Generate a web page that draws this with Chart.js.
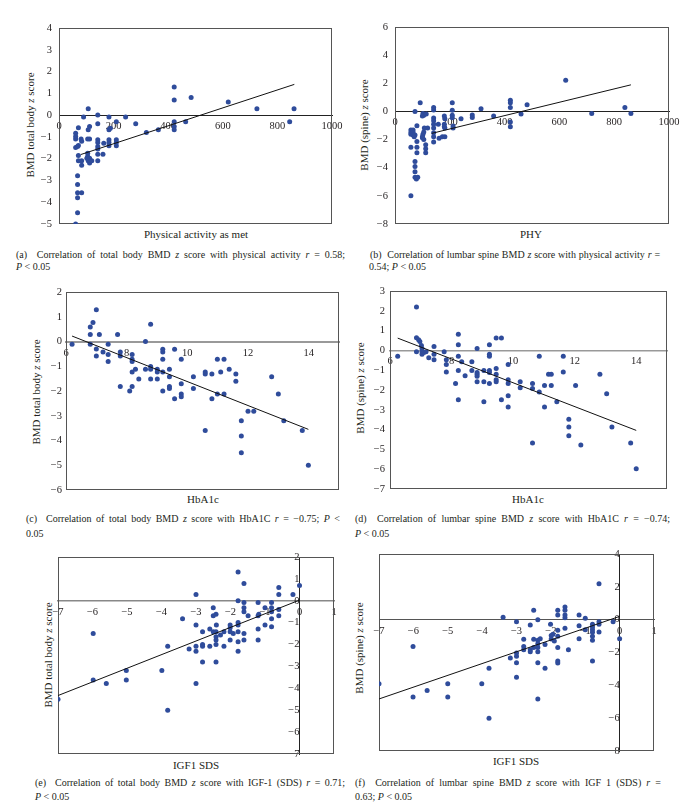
<!DOCTYPE html>
<html>
<head>
<meta charset="utf-8">
<script src="https://cdn.jsdelivr.net/npm/chart.js@4.4.1/dist/chart.umd.min.js"></script>
<style>
  body { margin: 0; background: #fff; width: 696px; height: 804px; position: relative; overflow: hidden;
         font-family: 'Liberation Serif', 'DejaVu Serif', serif; color: #231f20; }
  canvas { position: absolute; }
  .t { position: absolute; font-size: 11px; white-space: nowrap; transform: translate(-50%, -50%); }
  .r { transform: translate(-50%, -50%) rotate(-90deg); }
  .cap { position: absolute; font-size: 10px; line-height: 12px; white-space: nowrap; }
  .j { text-align: justify; text-align-last: justify; white-space: normal; }
</style>
</head>
<body>

<!-- axis titles -->
<div class="t" style="left:196px;top:234px">Physical activity as met</div>
<div class="t r" style="left:30px;top:125px">BMD total body <i>z</i> score</div>
<div class="t" style="left:531px;top:234px">PHY</div>
<div class="t r" style="left:364px;top:125px">BMD (spine) <i>z</i> score</div>
<div class="t" style="left:203px;top:499px">HbA1c</div>
<div class="t r" style="left:36px;top:392px">BMD total body <i>z</i> score</div>
<div class="t" style="left:528px;top:499px">HbA1c</div>
<div class="t r" style="left:360px;top:388px">BMD (spine) <i>z</i> score</div>
<div class="t" style="left:196px;top:765px">IGF1 SDS</div>
<div class="t r" style="left:48px;top:655px">BMD total body <i>z</i> score</div>
<div class="t" style="left:516px;top:761px">IGF1 SDS</div>
<div class="t r" style="left:359px;top:648px">BMD (spine) <i>z</i> score</div>

<!-- captions -->
<div class="cap j" style="left:16px;top:249px;width:329px">(a)&nbsp; Correlation of total body BMD <i>z</i> score with physical activity <i>r</i> = 0.58;</div>
<div class="cap" style="left:16px;top:261px"><i>P</i> &lt; 0.05</div>
<div class="cap j" style="left:370px;top:249px;width:290px">(b)&nbsp; Correlation of lumbar spine BMD <i>z</i> score with physical activity <i>r</i> =</div>
<div class="cap" style="left:369px;top:261px">0.54; <i>P</i> &lt; 0.05</div>
<div class="cap j" style="left:26px;top:513px;width:314px">(c)&nbsp; Correlation of total body BMD <i>z</i> score with HbA1C <i>r</i> = −0.75; <i>P</i> &lt;</div>
<div class="cap" style="left:26px;top:528px">0.05</div>
<div class="cap j" style="left:355px;top:513px;width:315px">(d)&nbsp; Correlation of lumbar spine BMD <i>z</i> score with HbA1C <i>r</i> = −0.74;</div>
<div class="cap" style="left:355px;top:528px"><i>P</i> &lt; 0.05</div>
<div class="cap j" style="left:35px;top:777px;width:310px">(e)&nbsp; Correlation of total body BMD <i>z</i> score with IGF-1 (SDS) <i>r</i> = 0.71;</div>
<div class="cap" style="left:35px;top:791px"><i>P</i> &lt; 0.05</div>
<div class="cap j" style="left:355px;top:777px;width:306px">(f)&nbsp; Correlation of lumbar spine BMD <i>z</i> score with IGF 1 (SDS) <i>r</i> =</div>
<div class="cap" style="left:355px;top:791px">0.63; <i>P</i> &lt; 0.05</div>

<script>
// values: [x, y] pairs
const bodyPhy = [[61,-5.0],[68,-4.48],[68,-3.8],[68,-3.56],[83,-3.56],[68,-3.19],[68,-2.78],[71,-1.86],[71,-2.1],[83,-2.1],
  [83,-2.3],[61,-1.49],[68,-1.44],[71,-1.4],[61,-1.1],[61,-0.98],[61,-0.83],[71,-0.58],[81,-1.1],[83,-1.2],
  [90,-0.09],[107,0.29],[107,-0.67],[112,-0.52],[105,-1.1],[112,-1.1],[105,-1.75],[105,-1.9],[112,-1.98],[107,-2.1],
  [112,-2.2],[120,-2.1],[102,-1.98],[142,0.0],[142,-0.4],[142,-1.13],[142,-1.26],[142,-1.44],[142,-1.56],[142,-1.8],
  [142,-2.1],[164,-1.29],[161,-1.8],[183,-0.09],[183,-0.67],[188,-0.6],[183,-1.13],[183,-1.26],[183,-1.41],[210,-0.31],
  [210,-1.13],[210,-1.26],[210,-1.41],[244,-0.09],[281,-0.4],[320,-0.8],[364,-0.67],[422,1.29],[422,0.69],[422,-0.31],
  [422,-0.52],[422,-0.67],[464,-0.31],[484,0.81],[620,0.6],[725,0.29],[845,-0.31],[861,0.29]];
const bodyPhyTrend = [[80,-1.81],[862,1.41]];

const spinePhy = [[58,-6.0],[58,-2.55],[58,-1.32],[58,-1.5],[58,-1.63],[66,-1.32],[66,-1.5],[66,-1.68],[73,0.0],[73,-3.55],
  [73,-3.92],[73,-4.28],[73,-4.68],[78,-4.8],[83,-4.68],[80,-2.93],[80,-2.55],[80,-2.13],[80,-1.02],[73,-1.68],
  [70,-1.8],[92,0.61],[102,-0.14],[105,-0.28],[100,-0.33],[114,-0.19],[100,-1.8],[102,-1.63],[105,-1.47],[107,-1.18],
  [100,-1.87],[105,-1.99],[112,-2.93],[112,-2.65],[112,-2.36],[119,-1.18],[141,0.28],[141,0.1],[141,-0.47],[141,-0.66],
  [141,-0.92],[141,-1.18],[141,-1.51],[141,-1.8],[141,-2.17],[158,-0.92],[161,-1.9],[180,-0.33],[182,-0.52],[180,-0.92],
  [180,-1.09],[182,-1.18],[173,-1.8],[182,-1.8],[209,0.61],[209,0.09],[209,-0.28],[209,-0.45],[212,-1.04],[212,-1.18],
  [241,-0.52],[282,-0.26],[282,-0.43],[314,0.19],[360,-0.33],[421,0.8],[421,0.61],[421,0.28],[421,-0.76],[421,-1.09],
  [460,-0.19],[482,0.47],[623,2.22],[718,-0.14],[839,0.28],[861,-0.14]];
const spinePhyTrend = [[134,-1.56],[861,1.89]];

const bodyHba = [[6.2,-0.11],[7.0,1.28],[6.89,0.77],[6.8,0.59],[6.8,0.28],[6.8,-0.11],[7.0,-0.3],[7.0,-0.59],[7.1,0.28],[7.22,-0.42],
  [7.39,-0.11],[7.39,-0.53],[7.39,-0.81],[7.7,0.28],[7.79,-0.42],[7.79,-0.59],[7.79,-1.82],[8.1,-2.0],[8.18,-0.53],[8.18,-0.72],
  [8.18,-0.81],[8.18,-1.23],[8.18,-1.82],[8.29,-1.12],[8.4,-1.52],[8.62,0.0],[8.62,-1.12],[8.79,0.7],[8.79,-1.01],[8.79,-1.12],
  [8.79,-1.52],[9.01,-1.12],[9.01,-1.23],[9.01,-1.52],[9.19,-0.31],[9.19,-0.42],[9.19,-0.72],[9.19,-1.23],[9.19,-2.0],[9.41,-1.12],
  [9.41,-1.42],[9.41,-1.82],[9.41,-1.9],[9.58,-0.31],[9.58,-2.31],[9.8,-0.72],[9.8,-1.71],[9.8,-2.12],[9.8,-2.23],[10.2,-1.42],
  [10.2,-1.9],[10.59,-1.23],[10.59,-1.31],[10.59,-3.6],[10.81,-1.31],[10.81,-2.31],[10.99,-0.72],[10.99,-2.12],[11.1,-1.23],[11.21,-0.72],
  [11.21,-2.12],[11.38,-1.12],[11.6,-1.31],[11.6,-1.61],[11.78,-3.2],[11.78,-3.82],[11.78,-4.49],[12.0,-2.82],[12.19,-2.82],[12.78,-1.42],
  [13.0,-2.12],[13.18,-3.2],[13.79,-3.6],[13.99,-5.0]];
const bodyHbaTrend = [[6.2,0.22],[13.99,-3.55]];

const spineHba = [[6.25,-0.29],[6.86,2.19],[6.86,0.64],[6.93,0.54],[6.97,0.45],[6.86,-0.07],[7.02,0.25],[7.04,0.1],[7.04,-0.07],[7.04,-0.2],
  [7.1,-0.1],[7.17,-0.07],[7.26,-0.37],[7.43,0.2],[7.43,-0.2],[7.43,-0.47],[7.76,-0.07],[7.83,-0.47],[7.83,-0.71],[7.83,-1.09],
  [8.13,-1.67],[8.22,0.81],[8.22,0.29],[8.22,-0.3],[8.22,-1.01],[8.22,-2.49],[8.33,-0.57],[8.44,-1.28],[8.66,-0.57],[8.66,-1.01],
  [8.83,0.1],[8.83,-1.11],[8.83,-1.21],[8.83,-1.31],[8.83,-1.58],[9.05,-1.01],[9.05,-1.58],[9.05,-2.59],[9.23,0.29],[9.23,-0.2],
  [9.23,-0.3],[9.23,-1.01],[9.23,-1.11],[9.23,-1.67],[9.45,0.62],[9.45,-0.91],[9.45,-1.21],[9.45,-1.48],[9.45,-1.58],[9.62,0.62],
  [9.62,-2.49],[9.84,-0.71],[9.84,-1.48],[9.84,-1.67],[9.84,-2.29],[9.84,-2.86],[10.23,-1.58],[10.23,-1.89],[10.63,-1.67],[10.63,-1.92],
  [10.63,-4.68],[10.85,-0.3],[10.85,-2.1],[11.02,-1.77],[11.02,-2.86],[11.15,-1.2],[11.24,-1.2],[11.24,-1.77],[11.42,-2.59],[11.63,-0.3],
  [11.63,-1.09],[11.81,-3.48],[11.81,-3.87],[11.81,-4.31],[12.03,-1.77],[12.2,-4.78],[12.82,-1.2],[13.04,-2.19],[13.21,-3.87],[13.82,-4.68],
  [14.0,-5.98]];
const spineHbaTrend = [[6.25,0.62],[14.0,-4.04]];

const bodyIgf = [[-7,-4.5],[-5.98,-1.49],[-5.98,-3.62],[-5.6,-3.78],[-5.02,-3.18],[-5.02,-3.62],[-3.99,-3.18],[-3.82,-2.08],[-3.82,-5.0],[-3.39,-0.82],
  [-3.2,-2.2],[-3.0,0.29],[-3.0,-1.11],[-3.0,-2.08],[-3.0,-2.31],[-3.0,-3.78],[-2.81,-1.41],[-2.81,-2.0],[-2.81,-2.08],[-2.81,-2.8],
  [-2.6,-1.29],[-2.6,-2.08],[-2.5,-0.32],[-2.5,-0.68],[-2.5,-1.41],[-2.42,-0.61],[-2.41,-1.11],[-2.42,-1.41],[-2.42,-1.64],[-2.42,-1.79],
  [-2.42,-2.0],[-2.42,-2.8],[-2.29,-1.56],[-2.19,-2.08],[-2.19,-1.41],[-2.01,-1.11],[-2.01,-1.23],[-2.01,-1.41],[-2.01,-1.79],[-1.92,-1.49],
  [-1.78,1.31],[-1.78,0.0],[-1.78,-0.99],[-1.78,-1.11],[-1.78,-1.41],[-1.78,-1.87],[-1.78,-2.31],[-1.61,0.79],[-1.61,-0.08],[-1.61,-0.32],
  [-1.61,-0.5],[-1.61,-1.49],[-1.61,-1.79],[-1.49,-0.68],[-1.2,-0.08],[-1.2,-0.68],[-1.2,-1.29],[-1.2,-1.79],[-1.18,-0.61],[-1.0,-0.32],
  [-1.0,-1.11],[-0.81,-0.08],[-0.81,-0.32],[-0.81,-0.5],[-0.81,-0.82],[-0.81,-1.19],[-0.6,0.61],[-0.6,0.29],[-0.6,-0.4],[-0.6,-0.68],
  [-0.19,0.29],[0.0,0.7]];
const bodyIgfTrend = [[-7,-4.33],[0,0.03]];

const spineIgf = [[-7,-3.91],[-6.01,-1.64],[-6.01,-4.71],[-5.6,-4.32],[-5.0,-3.91],[-5.0,-4.71],[-4.01,-3.91],[-3.8,-2.96],[-3.8,-6.0],[-3.39,0.14],
  [-3.18,-2.33],[-3.0,-0.12],[-3.0,-2.03],[-3.0,-2.23],[-3.0,-2.62],[-3.0,-3.51],[-2.79,-1.2],[-2.79,-1.64],[-2.79,-1.83],[-2.6,-0.32],
  [-2.6,-1.83],[-2.6,-1.95],[-2.5,0.57],[-2.5,-1.2],[-2.5,-1.7],[-2.38,0.0],[-2.38,-1.26],[-2.38,-1.46],[-2.38,-1.7],[-2.38,-1.95],
  [-2.38,-2.62],[-2.38,-4.83],[-2.31,-1.16],[-2.17,-1.52],[-2.17,-2.96],[-2.01,-0.28],[-1.99,-0.97],[-1.99,-1.18],[-1.94,-0.89],[-1.9,-1.3],
  [-1.8,0.57],[-1.8,0.28],[-1.8,-0.65],[-1.8,-1.01],[-1.8,-1.7],[-1.8,-2.52],[-1.8,-2.64],[-1.59,0.77],[-1.59,0.57],[-1.59,0.28],
  [-1.59,0.12],[-1.59,-0.53],[-1.49,-1.83],[-1.18,0.28],[-1.18,-0.37],[-1.18,-1.16],[-1.0,0.08],[-1.0,-0.61],[-0.79,-0.28],[-0.79,-0.45],
  [-0.79,-0.61],[-0.79,-0.77],[-0.79,-1.01],[-0.79,-1.26],[-0.79,-2.52],[-0.6,2.19],[-0.6,-0.12],[-0.6,-0.28],[-0.6,-0.75],[-0.19,-0.12],
  [0.0,-1.16]];
const spineIgfTrend = [[-7,-4.83],[0,0.2]];

// axis ranges [min, max, step]
const phyRange = [0, 1000, 200];
const hbaRange = [6, 15, 2];
const igfRange = [-7, 1, 1];

Chart.defaults.font.family = "'Liberation Serif', 'DejaVu Serif', serif";
Chart.defaults.font.size = 10.5;
Chart.defaults.color = '#231f20';

const dotColor = '#2f4c9b';
const PADX = 40, PADY = 20;
const fmt = v => v < 0 ? '\u2212' + Math.abs(v) : String(v);

// frame around the plot area
const frame = {
  id: 'frame',
  beforeDatasetsDraw(chart) {
    const { ctx, chartArea: a } = chart;
    ctx.save();
    ctx.strokeStyle = '#555';
    ctx.lineWidth = 1;
    ctx.strokeRect(a.left + 0.5, a.top + 0.5, a.right - a.left - 1, a.bottom - a.top - 1);
    ctx.restore();
  }
};

function panel(box, pts, trend, xr, yr, o) {
  const cv = document.createElement('canvas');
  cv.width = box[2] + 2 * PADX;
  cv.height = box[3] + 2 * PADY;
  cv.style.left = (box[0] - PADX) + 'px';
  cv.style.top = (box[1] - PADY) + 'px';
  document.body.appendChild(cv);

  // a left axis keeps its own width (its labels are clipped to it); an axis at x = 0 takes none
  const yw = o.yAtZero ? 0 : PADX;

  new Chart(cv, {
    type: 'scatter',
    data: {
      datasets: [
        {
          data: trend.map(p => ({ x: p[0], y: p[1] })),
          showLine: true, pointRadius: 0, borderColor: '#111', borderWidth: 1
        },
        {
          data: pts.map(p => ({ x: p[0], y: p[1] })),
          pointRadius: 2.5, pointBorderWidth: 0,
          backgroundColor: dotColor, borderColor: dotColor
        }
      ]
    },
    options: {
      responsive: false,
      animation: false,
      layout: { padding: { left: PADX - yw, right: PADX, top: PADY, bottom: PADY } },
      plugins: { legend: { display: false }, tooltip: { enabled: false } },
      scales: {
        x: {
          type: 'linear', min: xr[0], max: xr[1],
          position: { y: 0 },
          afterFit: s => { s.height = 0; },
          grid: { display: false, drawTicks: false },
          border: { display: true, color: o.hColor, width: o.hWidth },
          ticks: { stepSize: xr[2], includeBounds: false, padding: 5, maxRotation: 0, autoSkip: false, callback: fmt }
        },
        y: {
          type: 'linear', min: yr[0], max: yr[1],
          position: o.yAtZero ? { x: 0 } : 'left',
          afterFit: s => { s.width = yw; },
          grid: { display: false, drawTicks: false },
          border: { display: !!o.yAtZero, color: o.vColor || '#222', width: 1 },
          ticks: { stepSize: yr[2], padding: o.yPad, autoSkip: false, callback: fmt }
        }
      }
    },
    plugins: [frame]
  });
}

// box = [left, top, width, height] of the plot frame
panel([59, 28, 273, 196], bodyPhy, bodyPhyTrend, phyRange, [-5, 4, 1], { hColor: '#222', hWidth: 1, yPad: 7 });
panel([395, 27, 274, 197], spinePhy, spinePhyTrend, phyRange, [-8, 6, 2], { hColor: '#222', hWidth: 1, yPad: 7 });
panel([66, 292, 273, 198], bodyHba, bodyHbaTrend, hbaRange, [-6, 2, 1], { hColor: '#999', hWidth: 2, yPad: 4 });
panel([390, 291, 277, 198], spineHba, spineHbaTrend, hbaRange, [-7, 3, 1], { hColor: '#999', hWidth: 1.5, yPad: 5 });
panel([58, 557, 276, 197], bodyIgf, bodyIgfTrend, igfRange, [-7, 2, 1], { hColor: '#888', hWidth: 1.5, yAtZero: true, vColor: '#222', yPad: 7 });
panel([379, 554, 275, 197], spineIgf, spineIgfTrend, igfRange, [-8, 4, 2], { hColor: '#555', hWidth: 1, yAtZero: true, vColor: '#222', yPad: 7 });
</script>
</body>
</html>
